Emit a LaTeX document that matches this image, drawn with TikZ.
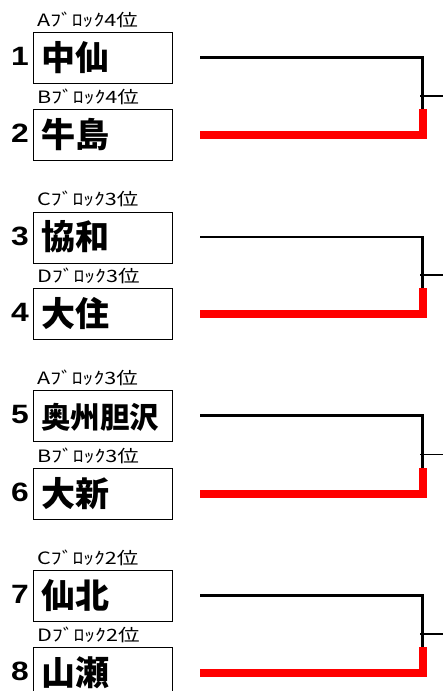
\documentclass[tikz,border=0pt]{standalone}
\usepackage{fontspec}
\newfontfamily\cjk{Noto Sans CJK JP}
\newfontfamily\cjkwide[FakeStretch=1.27]{Noto Sans CJK JP}
\newfontfamily\numfont[FakeStretch=1.2]{Liberation Sans}
\begin{document}
\begin{tikzpicture}[x=1pt,y=-1pt,
  teambox/.style={draw=black,line width=1pt,minimum width=139pt,minimum height=51pt,inner sep=0pt,anchor=north west},
  teamname/.style={anchor=base west,inner sep=0pt,font=\cjk\bfseries\fontsize{34}{34}\selectfont},
  longname/.style={anchor=base west,inner sep=0pt,font=\cjk\bfseries\fontsize{29.5}{30}\selectfont},
  blocklabel/.style={anchor=base west,inner sep=0pt,font=\cjkwide\fontsize{17}{17}\selectfont},
  seedno/.style={anchor=base east,inner sep=0pt,font=\numfont\bfseries\fontsize{26.5}{26.5}\selectfont},
  upperline/.style={line width=2.7pt,draw=black,line join=miter},
  winline/.style={line width=8pt,draw=red,line join=miter},
  branchline/.style={line width=1.7pt,draw=black}]
\useasboundingbox (0,0) rectangle (443,691);
\clip (0,0) rectangle (443,691);
% teams
\foreach \i/\t/\nm/\lab/\st in {
  1/32/中仙/Aﾌﾞﾛｯｸ4位/teamname,
  2/109/牛島/Bﾌﾞﾛｯｸ4位/teamname,
  3/211.5/協和/Cﾌﾞﾛｯｸ3位/teamname,
  4/288/大住/Dﾌﾞﾛｯｸ3位/teamname,
  5/390/奥州胆沢/Aﾌﾞﾛｯｸ3位/longname,
  6/468/大新/Bﾌﾞﾛｯｸ3位/teamname,
  7/570/仙北/Cﾌﾞﾛｯｸ2位/teamname,
  8/647/山瀬/Dﾌﾞﾛｯｸ2位/teamname}{
  \node[teambox] (b\i) at (33,\t) {};
  \node[\st] (n\i) at (41,\t+25.5+12.5) {\nm};
  \node[blocklabel] (l\i) at (37,\t-6) {\lab};
  \node[seedno] (k\i) at (29,\t+25.5+8) {\i};
}
% bracket lines
\foreach \p/\u/\lw/\lt in {1/57.5/134.5/109, 2/237/313.5/288, 3/415.5/493.5/468, 4/595.5/672.5/647}{
  \coordinate (s\p) at (200,\u);
  \coordinate (c\p) at (422.5,\u);
  \coordinate (v\p) at (422.5,\lt);
  \coordinate (r\p) at (200,\lw);
  \coordinate (rc\p) at (423,\lw);
  \coordinate (rt\p) at (423,\lt);
  \coordinate (m\p) at (420,{(\u+\lw)/2});
  \coordinate (e\p) at (443,{(\u+\lw)/2});
  \draw[upperline] (s\p) -- (c\p) -- (v\p);
  \draw[branchline] (m\p) -- (e\p);
  \draw[winline] (r\p) -- (rc\p) -- (rt\p);
}
\end{tikzpicture}
\end{document}
